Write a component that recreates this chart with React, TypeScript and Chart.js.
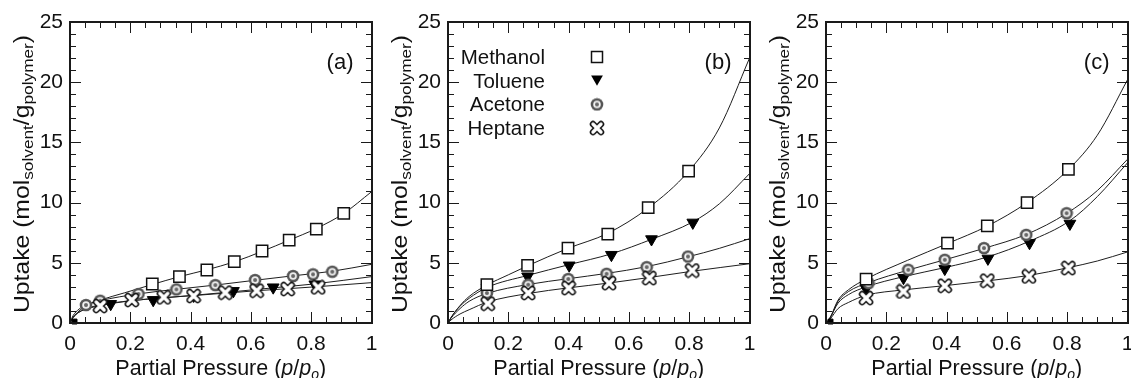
import React, { useEffect, useRef } from 'react';
import { Chart, registerables } from 'chart.js';

Chart.register(...registerables);

const FONT = "'Liberation Sans', Arial, Helvetica, sans-serif";

// ---------- tick labels ----------
const xTickLabels = ['0', '0.2', '0.4', '0.6', '0.8', '1'];
const yTickLabels = ['0', '5', '10', '15', '20', '25'];
const legendLabels = ['Methanol', 'Toluene', 'Acetone', 'Heptane'];
const panelLabels = ['(a)', '(b)', '(c)'];

// ---------- panel (a) ----------
const methanolA = [[0.273, 3.24], [0.363, 3.85], [0.454, 4.4], [0.545, 5.09], [0.637, 5.98], [0.727, 6.89], [0.817, 7.8], [0.908, 9.1]];
const tolueneA = [[0.135, 1.58], [0.276, 1.91], [0.41, 2.27], [0.542, 2.66], [0.674, 2.96], [0.812, 3.21]];
const acetoneA = [[0.053, 1.49], [0.1, 1.85], [0.227, 2.41], [0.353, 2.79], [0.482, 3.15], [0.614, 3.57], [0.74, 3.9], [0.806, 4.04], [0.87, 4.26]];
const heptaneA = [[0.1, 1.41], [0.205, 1.91], [0.311, 2.13], [0.41, 2.24], [0.515, 2.52], [0.619, 2.68], [0.722, 2.82], [0.823, 2.96]];
const originA = [[0.015, 0.12]];
const methanolFitA = [[0, 0], [0.01, 0.45], [0.03, 1.0], [0.06, 1.5], [0.1, 1.9], [0.18, 2.5], [0.273, 3.2], [0.363, 3.85], [0.454, 4.42], [0.545, 5.08], [0.637, 5.95], [0.727, 6.88], [0.817, 7.85], [0.908, 9.1], [1, 10.9]];
const tolueneFitA = [[0, 0], [0.01, 0.45], [0.03, 0.9], [0.06, 1.25], [0.1, 1.5], [0.2, 1.85], [0.3, 2.07], [0.41, 2.3], [0.542, 2.6], [0.674, 2.92], [0.812, 3.25], [1, 3.85]];
const acetoneFitA = [[0, 0], [0.01, 0.6], [0.03, 1.15], [0.053, 1.5], [0.1, 1.85], [0.227, 2.42], [0.353, 2.8], [0.482, 3.15], [0.614, 3.55], [0.74, 3.92], [0.87, 4.3], [1, 4.87]];
const heptaneFitA = [[0, 0], [0.01, 0.45], [0.03, 0.9], [0.06, 1.2], [0.1, 1.45], [0.205, 1.85], [0.311, 2.1], [0.41, 2.28], [0.515, 2.48], [0.619, 2.68], [0.722, 2.85], [0.823, 3.02], [1, 3.35]];

// ---------- panel (b) ----------
const methanolB = [[0.129, 3.18], [0.264, 4.78], [0.398, 6.22], [0.53, 7.38], [0.664, 9.59], [0.798, 12.62]];
const tolueneB = [[0.129, 2.9], [0.264, 3.87], [0.402, 4.78], [0.542, 5.66], [0.675, 6.96], [0.812, 8.34]];
const acetoneB = [[0.129, 2.49], [0.266, 3.18], [0.399, 3.65], [0.526, 4.09], [0.659, 4.64], [0.796, 5.52]];
const heptaneB = [[0.132, 1.6], [0.266, 2.49], [0.4, 2.9], [0.534, 3.31], [0.668, 3.73], [0.81, 4.36]];
const originB: number[][] = [];
const methanolFitB = [[0, 0], [0.01, 0.45], [0.04, 1.45], [0.07, 2.2], [0.129, 3.15], [0.2, 4.0], [0.264, 4.75], [0.398, 6.2], [0.53, 7.45], [0.664, 9.55], [0.798, 12.6], [0.9, 16.2], [1, 22.0]];
const tolueneFitB = [[0, 0], [0.01, 0.45], [0.04, 1.4], [0.07, 2.05], [0.129, 2.95], [0.264, 3.95], [0.402, 4.85], [0.542, 5.75], [0.675, 6.95], [0.812, 8.4], [0.9, 9.9], [1, 12.4]];
const acetoneFitB = [[0, 0], [0.01, 0.4], [0.04, 1.2], [0.07, 1.8], [0.129, 2.45], [0.266, 3.2], [0.399, 3.68], [0.526, 4.12], [0.659, 4.68], [0.796, 5.5], [0.9, 6.2], [1, 7.0]];
const heptaneFitB = [[0, 0], [0.01, 0.25], [0.04, 0.75], [0.07, 1.1], [0.132, 1.75], [0.266, 2.45], [0.4, 2.92], [0.534, 3.32], [0.668, 3.78], [0.81, 4.3], [1, 4.92]];

// ---------- panel (c) ----------
const methanolC = [[0.133, 3.65], [0.403, 6.63], [0.535, 8.07], [0.667, 10.0], [0.804, 12.76]];
const tolueneC = [[0.133, 2.85], [0.257, 3.75], [0.394, 4.5], [0.537, 5.35], [0.675, 6.65], [0.809, 8.25]];
const acetoneC = [[0.141, 3.31], [0.273, 4.42], [0.394, 5.25], [0.524, 6.22], [0.664, 7.32], [0.798, 9.12]];
const heptaneC = [[0.133, 2.07], [0.257, 2.62], [0.394, 3.09], [0.535, 3.51], [0.673, 3.87], [0.804, 4.56]];
const originC = [[0.015, 0.12]];
const methanolFitC = [[0, 0], [0.013, 0.4], [0.04, 1.9], [0.074, 2.75], [0.133, 3.65], [0.27, 5.2], [0.403, 6.6], [0.535, 8.05], [0.667, 10.0], [0.804, 12.75], [0.9, 15.6], [1, 20.2]];
const tolueneFitC = [[0, 0], [0.013, 0.4], [0.04, 1.65], [0.074, 2.35], [0.133, 3.0], [0.257, 3.85], [0.394, 4.6], [0.537, 5.5], [0.675, 6.8], [0.809, 8.5], [0.9, 10.5], [1, 13.3]];
const acetoneFitC = [[0, 0], [0.013, 0.4], [0.04, 1.8], [0.074, 2.6], [0.141, 3.35], [0.273, 4.4], [0.394, 5.25], [0.524, 6.2], [0.664, 7.35], [0.798, 9.1], [0.9, 11.0], [1, 13.6]];
const heptaneFitC = [[0, 0], [0.013, 0.3], [0.04, 1.2], [0.074, 1.7], [0.133, 2.3], [0.257, 2.75], [0.394, 3.1], [0.535, 3.5], [0.673, 3.95], [0.804, 4.6], [0.9, 5.15], [1, 5.9]];

// inward tick mark positions
const xMinorTicks = [0, 0.05, 0.1, 0.15, 0.2, 0.25, 0.3, 0.35, 0.4, 0.45, 0.5, 0.55, 0.6, 0.65, 0.7, 0.75, 0.8, 0.85, 0.9, 0.95, 1];
const yMinorTicks = [0, 1, 2, 3, 4, 5, 6, 7, 8, 9, 10, 11, 12, 13, 14, 15, 16, 17, 18, 19, 20, 21, 22, 23, 24, 25];

type Panel = {
  label: string;
  legend: boolean;
  methanol: number[][];
  toluene: number[][];
  acetone: number[][];
  heptane: number[][];
  origin: number[][];
  fits: number[][][];
};

const panels: Panel[] = [
  { label: panelLabels[0], legend: false, methanol: methanolA, toluene: tolueneA, acetone: acetoneA, heptane: heptaneA, origin: originA, fits: [methanolFitA, tolueneFitA, acetoneFitA, heptaneFitA] },
  { label: panelLabels[1], legend: true, methanol: methanolB, toluene: tolueneB, acetone: acetoneB, heptane: heptaneB, origin: originB, fits: [methanolFitB, tolueneFitB, acetoneFitB, heptaneFitB] },
  { label: panelLabels[2], legend: false, methanol: methanolC, toluene: tolueneC, acetone: acetoneC, heptane: heptaneC, origin: originC, fits: [methanolFitC, tolueneFitC, acetoneFitC, heptaneFitC] },
];

const CANVAS_W = 381;
const CANVAS_H = 378;
const TRI_R = 6.8;

function makeAcetoneMarker() {
  const c = document.createElement('canvas');
  c.width = 14; c.height = 14;
  const g = c.getContext('2d')!;
  g.fillStyle = '#555';
  g.beginPath(); g.arc(7, 7, 6.3, 0, Math.PI * 2); g.fill();
  g.fillStyle = '#f2f2f2';
  g.beginPath(); g.arc(7, 7, 3.8, 0, Math.PI * 2); g.fill();
  g.fillStyle = '#666';
  g.beginPath(); g.arc(7, 7, 2.0, 0, Math.PI * 2); g.fill();
  return c;
}

function makeHeptaneMarker() {
  const c = document.createElement('canvas');
  c.width = 16; c.height = 16;
  const g = c.getContext('2d')!;
  g.lineCap = 'round';
  g.strokeStyle = '#111'; g.lineWidth = 6.5;
  g.beginPath(); g.moveTo(4, 4); g.lineTo(12, 12); g.moveTo(12, 4); g.lineTo(4, 12); g.stroke();
  g.strokeStyle = '#fff'; g.lineWidth = 3.4;
  g.beginPath(); g.moveTo(4, 4); g.lineTo(12, 12); g.moveTo(12, 4); g.lineTo(4, 12); g.stroke();
  return c;
}

type Seg = { t: string; size: number; italic?: boolean; dy?: number };

function drawSegs(ctx: CanvasRenderingContext2D, segs: Seg[], cx: number, y: number) {
  const fontOf = (s: Seg) => `${s.italic ? 'italic ' : ''}${s.size}px ${FONT}`;
  let total = 0;
  for (const s of segs) { ctx.font = fontOf(s); total += ctx.measureText(s.t).width; }
  let x = cx - total / 2;
  ctx.textAlign = 'left';
  ctx.textBaseline = 'alphabetic';
  for (const s of segs) {
    ctx.font = fontOf(s);
    ctx.fillText(s.t, x, y + (s.dy || 0));
    x += ctx.measureText(s.t).width;
  }
}

const yTitle: Seg[] = [
  { t: 'Uptake (mol', size: 21.5 },
  { t: 'solvent', size: 15, dy: 4 },
  { t: '/g', size: 21.5 },
  { t: 'polymer', size: 15, dy: 4 },
  { t: ')', size: 21.5 },
];
const xTitle: Seg[] = [
  { t: 'Partial Pressure (', size: 21.5 },
  { t: 'p', size: 21.5, italic: true },
  { t: '/', size: 21.5 },
  { t: 'p', size: 21.5, italic: true },
  { t: 'o', size: 14, italic: true, dy: 4 },
  { t: ')', size: 21.5 },
];

// frame + inward ticks, positioned with the chart's own scales
function drawFrame(g: CanvasRenderingContext2D, chart: any) {
  const a = chart.chartArea;
  const xs = chart.scales.x;
  const ys = chart.scales.y;
  const L = Math.round(a.left);
  const R = Math.round(a.right);
  const T = Math.round(a.top);
  const B = Math.round(a.bottom);
  g.save();
  g.fillStyle = '#1a1a1a';
  g.fillRect(L - 1, T - 1, R - L + 2, 2);
  g.fillRect(L - 1, B - 1, R - L + 2, 2);
  g.fillRect(L - 1, T - 1, 2, B - T + 2);
  g.fillRect(R - 1, T - 1, 2, B - T + 2);
  xMinorTicks.forEach((v, i) => {
    const px = Math.round(xs.getPixelForValue(v));
    const len = i % 4 === 0 ? 11 : 6;
    g.fillRect(px, B - len, 1, len);
    g.fillRect(px, T, 1, len);
  });
  yMinorTicks.forEach((v, j) => {
    const py = Math.round(ys.getPixelForValue(v));
    const len = j % 5 === 0 ? 11 : 6;
    g.fillRect(L, py, len, 1);
    g.fillRect(R - len, py, len, 1);
  });
  g.restore();
}

const toXY = (arr: number[][]) => arr.map(([x, y]) => ({ x, y }));

function PanelChart({ panel }: { panel: Panel }) {
  const ref = useRef<HTMLCanvasElement>(null);
  const overlayRef = useRef<HTMLCanvasElement>(null);
  useEffect(() => {
    const acImg = makeAcetoneMarker();
    const hpImg = makeHeptaneMarker();
    const decor = {
      id: 'decor',
      afterDraw(chart: any) {
        const ctx: CanvasRenderingContext2D = chart.ctx;
        const a = chart.chartArea;
        ctx.save();
        ctx.fillStyle = '#111';
        drawSegs(ctx, xTitle, (a.left + a.right) / 2, 375);
        ctx.save();
        ctx.translate(29, 174);
        ctx.rotate(-Math.PI / 2);
        ctx.scale(1.15, 1);
        drawSegs(ctx, yTitle, 0, 0);
        ctx.restore();
        ctx.fillStyle = '#111';
        ctx.font = `22px ${FONT}`;
        ctx.textAlign = 'right';
        ctx.textBaseline = 'alphabetic';
        ctx.fillText(panel.label, a.right - 18, 69);
        if (panel.legend) {
          for (let i = 0; i < legendLabels.length; i++) {
            const by = 64 + i * 23.7;
            const mx = 219, my = by - 7;
            ctx.font = `20.5px ${FONT}`;
            ctx.fillStyle = '#111';
            ctx.textAlign = 'right';
            ctx.fillText(legendLabels[i], 167, by);
            if (i === 0) {
              ctx.fillStyle = '#fff'; ctx.strokeStyle = '#111'; ctx.lineWidth = 1.5;
              ctx.fillRect(mx - 5.5, my - 5.5, 11, 11);
              ctx.strokeRect(mx - 5.5, my - 5.5, 11, 11);
            } else if (i === 1) {
              ctx.fillStyle = '#000';
              ctx.beginPath();
              ctx.moveTo(mx, my + TRI_R * 0.75);
              ctx.lineTo(mx - TRI_R * 0.866, my - TRI_R * 0.75);
              ctx.lineTo(mx + TRI_R * 0.866, my - TRI_R * 0.75);
              ctx.closePath();
              ctx.fill();
            } else if (i === 2) {
              ctx.drawImage(acImg, mx - 7, my - 7);
            } else {
              ctx.drawImage(hpImg, mx - 8, my - 8);
            }
          }
        }
        ctx.restore();
        drawFrame(ctx, chart);
      },
    };
    const fitDs = (arr: number[][]) => ({
      data: toXY(arr),
      showLine: true,
      pointRadius: 0,
      borderColor: '#1e1e1e',
      borderWidth: 1,
      cubicInterpolationMode: 'monotone',
      fill: false,
      order: 10,
    });
    const datasets: any[] = [
      ...panel.fits.map(fitDs),
      { data: toXY(panel.toluene), pointStyle: 'triangle', pointRotation: 180, pointRadius: TRI_R, backgroundColor: '#000', borderColor: '#000', borderWidth: 1, order: 4 },
      { data: toXY(panel.acetone), pointStyle: acImg, pointRadius: 7, order: 3 },
      { data: toXY(panel.heptane), pointStyle: hpImg, pointRadius: 8, order: 2 },
      { data: toXY(panel.methanol), pointStyle: 'rect', pointRadius: 8, backgroundColor: '#fff', borderColor: '#111', borderWidth: 1.5, order: 1 },
      { data: toXY(panel.origin), pointStyle: 'rect', pointRadius: 3.5, backgroundColor: '#000', borderColor: '#000', borderWidth: 1, order: 0, clip: false },
    ];
    const tickFont = { family: FONT, size: 21 };
    const chart = new Chart(ref.current!, {
      type: 'scatter',
      data: { datasets },
      options: {
        responsive: false,
        animation: false,
        events: [],
        layout: { padding: { top: 22, right: 4, left: 0, bottom: 0 } },
        plugins: { legend: { display: false }, tooltip: { enabled: false } },
        scales: {
          x: {
            type: 'linear', min: 0, max: 1,
            grid: { display: false, drawTicks: false },
            border: { display: false },
            ticks: { stepSize: 0.2, padding: 9, font: tickFont, color: '#111', maxRotation: 0, autoSkip: false, callback: (_v: any, i: number) => xTickLabels[i] },
            afterFit: (s: any) => { s.height = 55; s.paddingLeft = 0; s.paddingRight = 0; },
          },
          y: {
            type: 'linear', min: 0, max: 25,
            grid: { display: false, drawTicks: false },
            border: { display: false },
            ticks: { stepSize: 5, padding: 7, font: tickFont, color: '#111', autoSkip: false, callback: (_v: any, i: number) => yTickLabels[i] },
            afterFit: (s: any) => { s.width = 70; s.paddingTop = 0; s.paddingBottom = 0; },
          },
        },
      } as any,
      plugins: [decor as any],
    });
    // also paint the frame on a transparent overlay canvas above the chart
    const ov = overlayRef.current;
    let og: CanvasRenderingContext2D | null = null;
    if (ov) {
      og = ov.getContext('2d');
      if (og) { og.clearRect(0, 0, ov.width, ov.height); drawFrame(og, chart); }
    }
    return () => {
      chart.destroy();
      if (og && ov) og.clearRect(0, 0, ov.width, ov.height);
    };
  }, [panel]);
  return (
    <div style={{ position: 'relative', width: CANVAS_W, height: CANVAS_H }}>
      <canvas ref={ref} width={CANVAS_W} height={CANVAS_H} style={{ display: 'block' }} />
      <canvas ref={overlayRef} width={CANVAS_W} height={CANVAS_H} style={{ position: 'absolute', left: 0, top: 0, pointerEvents: 'none' }} />
    </div>
  );
}

export default function App() {
  const offsets = [0, 378, 756];
  return (
    <div style={{ position: 'absolute', left: 0, top: 0, width: 1131, height: 378, overflow: 'hidden', background: '#fff' }}>
      {panels.map((p, i) => (
        <div key={i} style={{ position: 'absolute', left: offsets[i], top: 0, width: CANVAS_W, height: CANVAS_H }}>
          <PanelChart panel={p} />
        </div>
      ))}
    </div>
  );
}
